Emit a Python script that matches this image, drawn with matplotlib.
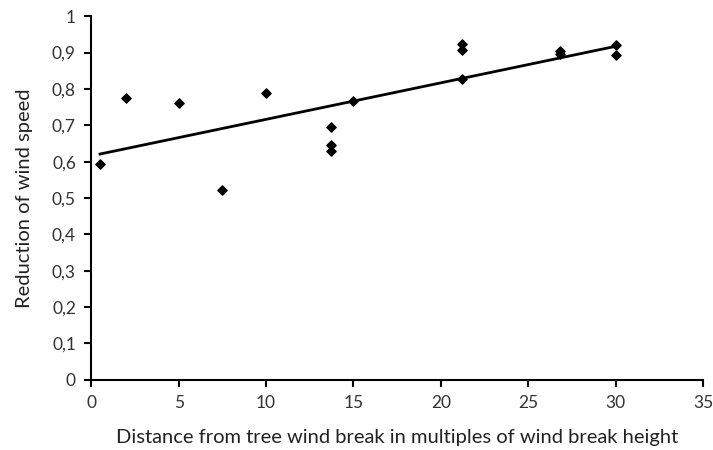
import numpy as np
import matplotlib
matplotlib.use("Agg")
import matplotlib.pyplot as plt
from matplotlib.ticker import FuncFormatter

plt.rcParams['font.family'] = ['Lato', 'DejaVu Sans']

distance = [0.5, 2, 5, 7.5, 10, 13.7, 13.7, 13.7, 15, 21.2, 21.2, 21.2, 26.8, 26.8, 30, 30]
reduction = [0.593, 0.775, 0.762, 0.522, 0.790, 0.694, 0.647, 0.628, 0.767,
             0.923, 0.907, 0.828, 0.903, 0.897, 0.920, 0.892]

x_ticks = [0, 5, 10, 15, 20, 25, 30, 35]
y_ticks = [0, 0.1, 0.2, 0.3, 0.4, 0.5, 0.6, 0.7, 0.8, 0.9, 1.0]

fig = plt.figure(figsize=(7.13, 4.5), dpi=100)
ax = fig.add_axes([0.128, 0.156, 0.858, 0.808])

x = np.array(distance)
y = np.array(reduction)
slope, intercept = np.polyfit(x, y, 1)
xl = np.array([x.min(), x.max()])
ax.plot(xl, slope * xl + intercept, color='black', lw=2, zorder=2)
ax.scatter(x, y, marker='D', s=22, color='black', zorder=3)

ax.set_xlim(0, 35)
ax.set_ylim(0, 1)
ax.set_xticks(x_ticks)
ax.set_yticks(y_ticks)

def fmt(v, pos):
    s = f"{v:.1f}".rstrip('0').rstrip('.') if v not in (0, 1) else str(int(v))
    return s.replace('.', ',')

ax.yaxis.set_major_formatter(FuncFormatter(fmt))
ax.xaxis.set_major_formatter(FuncFormatter(lambda v, p: str(int(v))))

for s in ['top', 'right']:
    ax.spines[s].set_visible(False)
for s in ['left', 'bottom']:
    ax.spines[s].set_linewidth(1.5)
ax.tick_params(axis='both', direction='out', length=5, width=1.5, labelsize=12.5,
               colors='black', labelcolor='#333333', pad=6)

ax.set_xlabel('Distance from tree wind break in multiples of wind break height',
              fontsize=14.5, labelpad=13, color='#222222')
ax.set_ylabel('Reduction of wind speed', fontsize=14.5, labelpad=14, color='#222222')

fig.savefig('out.png', dpi=100)
